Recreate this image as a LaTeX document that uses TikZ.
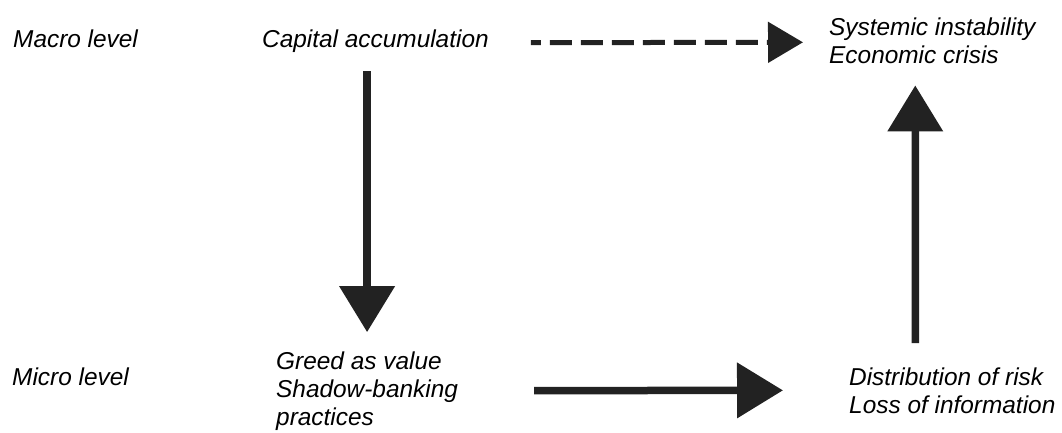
\documentclass[tikz,border=0pt]{standalone}
\usepackage{fontspec}
\setmainfont{Liberation Sans}
\usetikzlibrary{arrows.meta}
\definecolor{arrowgray}{RGB}{34,34,34}

\begin{document}
\begin{tikzpicture}[x=1pt, y=-1pt,
		txt/.style={anchor=base west, inner sep=0pt, align=left,
			font=\fontsize{24.4}{28}\selectfont\itshape},
		bigarrow/.style={draw=arrowgray, line width=7.5pt,
			-{Triangle[length=46pt, width=54pt]}},
		dasharrow/.style={draw=arrowgray, line width=5pt,
			dash pattern=on 22pt off 9pt, dash phase=12pt,
			-{Triangle[length=35pt, width=40pt]}}]
		\useasboundingbox (0,0) rectangle (1062,432);

		\node[txt] (macro) at (13,47) {Macro level};
		\node[txt] (micro) at (12,385) {Micro level};
		\node[txt] (cap) at (262,47) {Capital accumulation};
		\node[txt] (sys) at (829,63) {Systemic instability\\Economic crisis};
		\node[txt] (greed) at (276,425) {Greed as value\\Shadow-banking\\practices};
		\node[txt] (dist) at (849,413) {Distribution of risk\\Loss of information};

		\draw[dasharrow, shorten <=42pt, shorten >=26pt]
			([yshift=-2pt]cap.east) -- ([yshift=-2pt]sys.west);
		\draw[bigarrow, shorten <=19pt, shorten >=19pt]
			(cap.south -| greed.north) -- (greed.north);
		\draw[bigarrow, shorten <=76pt, shorten >=66pt]
			(greed.east) -- (dist.west);
		\draw[bigarrow]
			([xshift=-37pt, yshift=24pt]dist.north) -- ([xshift=-17pt, yshift=-22pt]sys.south);
	\end{tikzpicture}
\end{document}
